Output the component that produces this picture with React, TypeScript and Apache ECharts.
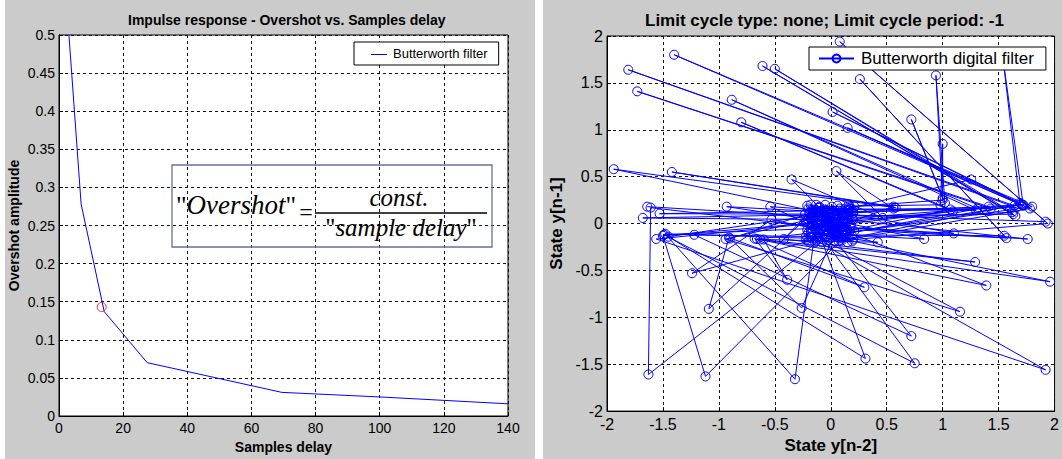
import React, { useEffect, useRef } from 'react';
import * as echarts from 'echarts';

// Left panel: overshoot vs. sample delay
const sampleDelay = [3.1, 6.9, 14.1, 27.5, 69.5, 100, 140];
const overshootAmplitude = [0.5, 0.278, 0.137, 0.07, 0.031, 0.025, 0.016];
const markedPoint: [number, number] = [13.3, 0.143];

// Right panel: state trajectory (y[n-2], y[n-1]) in plotted order
const stateTrajectory: [number, number][] = [
  [-1.64, 0.18], [0.19, 0.05], [0.05, -0.12], [1.64, 0.19], [-1.81, 1.64], [1.66, 0.17],
  [0.16, 0.15], [0.15, -0.1], [1.8, 0.18], [-1.4, 1.8], [1.78, 0.16], [0.1, -0.18],
  [-0.05, -0.15], [1.41, 0.18], [-1.73, 1.41], [1.43, 0.16], [-0.12, 0.12], [-0.18, -0.05],
  [1.31, 0.16], [-0.885, 1.32], [1.3, 0.14], [-0.2, 0.16], [-0.22, -0.17], [1.07, 0.15],
  [-0.8, 1.08], [1.09, 0.13], [0.0, 0.0], [0.08, 0.08], [1.63, 0.1], [-0.61, 1.68],
  [1.65, 0.08], [-0.5, 1.65], [1.62, 0.12], [-0.08, 0.03], [0.12, -0.06], [1.57, -0.155],
  [0.26, 1.54], [1.55, -0.13], [-0.15, -0.12], [0.17, 0.18], [1.0, 0.25], [0.94, 1.58],
  [1.02, 0.22], [0.72, 1.11], [1.0, 0.27], [1.0, 0.85], [0.98, 0.2], [-0.1, 0.18],
  [0.03, -0.19], [1.7, 0.21], [0.016, 1.19], [1.72, 0.19], [0.15, 1.02], [1.69, 0.22],
  [1.54, 1.75], [1.72, 0.2], [-0.2, 0.02], [0.2, -0.17], [1.94, 0.0], [0.08, 1.94],
  [1.92, 0.02], [-0.02, 0.1], [-1.94, 0.58], [0.58, 0.17], [-1.42, 0.55], [0.56, 0.18],
  [0.07, -0.03], [-0.35, 0.47], [0.465, 0.06], [0.05, 0.56], [0.56, 0.16], [-0.16, 0.07],
  [1.255, 0.47], [1.71, 0.2], [0.14, 0.11], [-0.93, 0.18], [0.18, -0.02], [-0.06, -0.08],
  [-0.54, 0.18], [0.18, 0.12], [0.02, 0.14], [-1.53, 0.105], [0.1, 0.1], [-1.68, 0.06],
  [0.06, 0.04], [-0.13, -0.18], [1.92, -1.56], [-1.56, -0.165], [-0.165, 0.0], [0.75, -1.49],
  [-1.49, -0.12], [-0.12, -0.05], [0.31, -1.44], [-1.45, -0.14], [-0.14, 0.09], [0.72, -1.2],
  [-1.22, -0.12], [-0.12, -0.14], [1.155, -0.94], [-0.94, -0.165], [-0.165, 0.05], [1.39, -0.66],
  [-0.66, -0.165], [-0.165, -0.1], [1.96, -0.62], [-0.63, -0.17], [1.29, -0.41], [-0.42, -0.165],
  [-0.165, 0.15], [0.11, 0.02], [-1.63, -1.61], [-1.61, 0.17], [0.17, -0.08], [-1.12, -1.63],
  [-1.5, -0.13], [-0.13, 0.01], [-0.32, -1.66], [-1.48, -0.11], [-0.11, -0.16], [-1.24, -0.53],
  [-0.53, 0.04], [0.04, -0.1], [-0.26, -0.9], [-0.9, -0.16], [-0.16, 0.12], [-1.09, -0.91],
  [-0.91, -0.15], [0.3, -0.68], [-0.68, -0.16], [-0.39, -0.6], [-0.6, -0.17], [0.42, -0.2],
  [-0.2, -0.1], [0.835, -0.165], [-0.165, 0.08], [1.76, -0.165], [-0.165, -0.02], [1.1, -0.105],
  [-0.105, 0.17], [0.13, 0.16], [-0.04, -0.06], [0.09, -0.15], [-0.19, 0.11], [0.2, 0.13],
  [-0.21, 0.19], [0.15, -0.2], [-0.03, 0.12], [0.2, 0.04], [-0.17, -0.14], [0.06, 0.19],
  [-0.22, 0.03], [0.12, -0.12], [-0.08, -0.2], [0.18, 0.16], [-0.12, 0.07], [0.03, -0.08],
  [-0.2, -0.19], [0.09, 0.13], [-0.05, 0.2], [0.21, -0.08], [-0.15, 0.14], [0.0, -0.15],
  [0.14, 0.07], [-0.1, -0.1], [-0.23, 0.1], [0.07, -0.19], [-0.01, 0.05], [0.19, -0.13],
  [-0.18, 0.2], [0.11, 0.0], [-0.07, -0.03], [0.16, 0.2], [-0.14, -0.2], [0.04, 0.1],
  [-0.21, -0.07], [0.2, 0.11], [-0.04, -0.13], [0.1, -0.16], [-0.11, 0.17], [0.02, 0.01],
  [-0.16, -0.01], [0.17, -0.03], [-0.06, 0.09], [0.08, 0.16], [-0.19, 0.12], [0.13, -0.07],
  [-0.02, -0.18], [0.21, 0.18], [-0.09, 0.02], [0.05, -0.04], [-0.13, 0.2], [0.19, -0.19],
  [-0.22, -0.13], [0.01, 0.18], [0.15, 0.03], [-0.07, 0.15], [-0.18, 0.06], [0.1, -0.09],
];

const SANS = '"Liberation Sans", Arial, sans-serif';
const SERIF = '"Liberation Serif", "Times New Roman", serif';

function axisBase(fontSize: number) {
  return {
    type: 'value' as const,
    axisLine: { show: true, onZero: false, lineStyle: { color: '#000', width: 1 } },
    axisTick: { show: true, inside: true, length: 4, lineStyle: { color: '#000' } },
    axisLabel: { color: '#000', fontSize, fontFamily: SANS },
    splitLine: { show: true, lineStyle: { color: '#111', width: 1, type: [3, 3] as any } },
    nameLocation: 'middle' as const,
    nameTextStyle: { color: '#000', fontWeight: 'bold' as const, fontFamily: SANS },
  };
}

export default function App() {
  const ref = useRef<HTMLDivElement>(null);
  useEffect(() => {
    document.body.style.margin = '0';
    const chart = echarts.init(ref.current!, null, { renderer: 'svg' });
    const fmt2 = (v: number) => String(Math.round(v * 100) / 100);
    const b14 = axisBase(14);
    const b16 = axisBase(16);
    chart.setOption({
      animation: false,
      textStyle: { fontFamily: SANS },
      title: [
        {
          text: 'Impulse response - Overshot vs. Samples delay',
          left: 128, top: 13, padding: 0,
          textStyle: { fontSize: 14, fontWeight: 'bold', color: '#000', fontFamily: SANS },
        },
        {
          text: 'Limit cycle type: none; Limit cycle period: -1',
          left: 645, top: 12, padding: 0,
          textStyle: { fontSize: 17, fontWeight: 'bold', color: '#000', fontFamily: SANS },
        },
      ],
      grid: [
        { left: 59, top: 35, width: 449, height: 383, show: true, borderColor: '#000', borderWidth: 1, backgroundColor: '#fff' },
        { left: 607, top: 36, width: 451, height: 380, show: true, borderColor: '#000', borderWidth: 1, backgroundColor: '#fff' },
      ],
      xAxis: [
        {
          ...b14, gridIndex: 0, min: 0, max: 140, interval: 20,
          axisLabel: { ...b14.axisLabel, margin: 5 },
          name: 'Samples delay', nameGap: 24,
          nameTextStyle: { ...b14.nameTextStyle, fontSize: 14 },
        },
        {
          ...b16, gridIndex: 1, min: -2, max: 2, interval: 0.5,
          axisLabel: { ...b16.axisLabel, margin: 5, formatter: fmt2 },
          name: 'State y[n-2]', nameGap: 24,
          nameTextStyle: { ...b16.nameTextStyle, fontSize: 17 },
        },
      ],
      yAxis: [
        {
          ...b14, gridIndex: 0, min: 0, max: 0.5, interval: 0.05,
          axisLabel: { ...b14.axisLabel, margin: 4, formatter: fmt2 },
          name: 'Overshot amplitude', nameGap: 38,
          nameTextStyle: { ...b14.nameTextStyle, fontSize: 14 },
        },
        {
          ...b16, gridIndex: 1, min: -2, max: 2, interval: 0.5,
          axisLabel: { ...b16.axisLabel, margin: 4, formatter: fmt2 },
          name: 'State y[n-1]', nameGap: 42,
          nameTextStyle: { ...b16.nameTextStyle, fontSize: 17 },
        },
      ],
      legend: [
        {
          data: ['Butterworth filter'],
          icon: 'rect',
          left: 354, top: 42, orient: 'horizontal',
          padding: [5, 11, 5, 17], itemWidth: 16, itemHeight: 2, itemGap: 0,
          itemStyle: { opacity: 0 },
          backgroundColor: '#fff', borderColor: '#000', borderWidth: 1, borderRadius: 0,
          textStyle: { color: '#000', fontSize: 13, fontFamily: SANS, padding: [0, 0, 0, 1] },
        },
        {
          data: ['Butterworth digital filter'],
          left: 809, top: 47, orient: 'horizontal',
          padding: [3, 12, 3, 9], itemWidth: 35, itemHeight: 10, itemGap: 0,
          backgroundColor: '#fff', borderColor: '#000', borderWidth: 1, borderRadius: 0,
          textStyle: { color: '#000', fontSize: 17, fontFamily: SANS, padding: [0, 0, 0, 2] },
        },
      ],
      series: [
        {
          name: 'Butterworth filter', type: 'line', xAxisIndex: 0, yAxisIndex: 0,
          data: sampleDelay.map((x, i) => [x, overshootAmplitude[i]]),
          symbol: 'none', color: '#0000ff',
          lineStyle: { color: '#0000ff', width: 1 }, itemStyle: { color: '#0000ff' },
        },
        {
          name: 'Marked point', type: 'scatter', xAxisIndex: 0, yAxisIndex: 0,
          data: [markedPoint], symbol: 'circle', symbolSize: 9,
          itemStyle: { color: 'rgba(0,0,0,0)', borderColor: '#ff0000', borderWidth: 1 }, z: 3,
        },
        {
          name: 'Butterworth digital filter', type: 'line', xAxisIndex: 1, yAxisIndex: 1,
          data: stateTrajectory, symbol: 'circle', symbolSize: 9, showSymbol: true,
          lineStyle: { color: '#0000ff', width: 1 },
          itemStyle: { color: 'rgba(0,0,0,0)', borderColor: '#0000ff', borderWidth: 1 },
        },
      ],
      graphic: [
        {
          type: 'line', z: 100, shape: { x1: 371, y1: 54.5, x2: 387, y2: 54.5 },
          style: { stroke: '#0000ff', lineWidth: 1 },
        },
        {
          type: 'rect', z: 100, shape: { x: 172, y: 165, width: 320, height: 82 },
          style: { fill: 'none', stroke: '#6c6c9c', lineWidth: 1.3 },
        },
        {
          type: 'text', z: 100, x: 176, y: 205,
          style: {
            text: '{q|"}{i|Overshot}{q|"}',
            verticalAlign: 'middle',
            rich: {
              q: { fontSize: 26, fontFamily: SERIF, fill: '#000' },
              i: { fontSize: 27, fontFamily: SERIF, fontStyle: 'italic', fill: '#000' },
            },
          },
        },
        {
          type: 'text', z: 100, x: 306, y: 212,
          style: { text: '=', fontSize: 24, fontFamily: SERIF, fill: '#000', align: 'center', verticalAlign: 'middle' },
        },
        {
          type: 'line', z: 100, shape: { x1: 315, y1: 213, x2: 487, y2: 213 },
          style: { stroke: '#000', lineWidth: 1.5 },
        },
        {
          type: 'text', z: 100, x: 399, y: 197,
          style: { text: 'const.', fontSize: 25, fontFamily: SERIF, fontStyle: 'italic', fill: '#000', align: 'center', verticalAlign: 'middle' },
        },
        {
          type: 'text', z: 100, x: 401, y: 227,
          style: {
            text: '{q|"}{i|sample delay}{q|"}',
            align: 'center', verticalAlign: 'middle',
            rich: {
              q: { fontSize: 25, fontFamily: SERIF, fill: '#000' },
              i: { fontSize: 25, fontFamily: SERIF, fontStyle: 'italic', fill: '#000' },
            },
          },
        },
      ],
    });
    return () => chart.dispose();
  }, []);
  return (
    <div style={{ position: 'relative', width: 1062, height: 459, background: '#fff' }}>
      <div style={{ position: 'absolute', left: 5, top: 0, width: 530, height: 459, background: '#cbcbcb' }} />
      <div style={{ position: 'absolute', left: 543, top: 0, width: 519, height: 459, background: '#cbcbcb' }} />
      <div ref={ref} style={{ position: 'absolute', left: 0, top: 0, width: 1062, height: 459 }} />
    </div>
  );
}
